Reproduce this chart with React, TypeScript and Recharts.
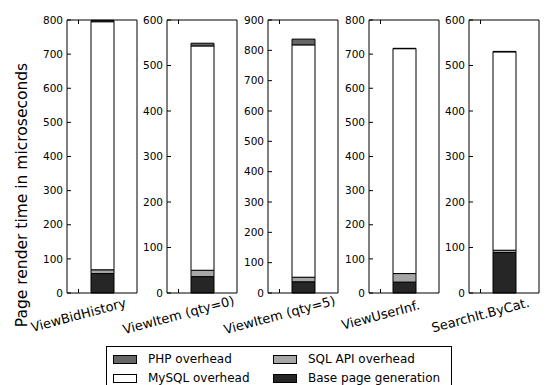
import { BarChart, Bar, XAxis, YAxis } from "recharts"

const pages = ["ViewBidHistory", "ViewItem (qty=0)", "ViewItem (qty=5)", "ViewUserInf.", "SearchIt.ByCat."]
const baseGen = [57, 36, 37, 32, 89]
const sqlApi = [11, 14, 15, 25, 5]
const mysql = [727, 493, 766, 659, 436]
const php = [4, 6, 19, 1, 1]

const ticks600 = [0, 100, 200, 300, 400, 500, 600]
const ticks800 = [0, 100, 200, 300, 400, 500, 600, 700, 800]
const ticks900 = [0, 100, 200, 300, 400, 500, 600, 700, 800, 900]
const panelTicks = [ticks800, ticks600, ticks900, ticks800, ticks600]

const yLabel = "Page render time in microseconds"

const series = [
  { key: "base", name: "Base page generation", fill: "#262626" },
  { key: "sql", name: "SQL API overhead", fill: "#a6a6a6" },
  { key: "mysql", name: "MySQL overhead", fill: "#ffffff" },
  { key: "php", name: "PHP overhead", fill: "#666666" },
]
// legend is filled column by column
const legendOrder = ["php", "mysql", "sql", "base"]

const FONT = "DejaVu Sans, sans-serif"
const plotLefts = [67, 167, 268, 369, 469]
const PLOT_W = 70
const AXIS_W = 50
const TICK_SHIFT = 23.5

const LeftTick = (p: any) => (
  <g>
    <text x={p.x} y={p.y} dy="0.35em" textAnchor="end" fontSize={10.5} fontFamily={FONT} fill="#000">
      {p.payload.value}
    </text>
    <line x1={p.x + 4} x2={p.x + 8} y1={p.y} y2={p.y} stroke="#000" />
  </g>
)

const RightTick = (p: any) => <line x1={p.x - 4} x2={p.x} y1={p.y} y2={p.y} stroke="#000" />

const BottomTick = (p: any) => {
  const tx = p.x - TICK_SHIFT
  return (
    <g>
      <line x1={tx} x2={tx} y1={p.y} y2={p.y - 4} stroke="#000" />
      <text
        transform={`translate(${tx},${p.y + 22}) rotate(-15)`}
        textAnchor="middle"
        dy="0.35em"
        fontSize={13}
        fontFamily={FONT}
        fill="#000"
      >
        {p.payload.value}
      </text>
    </g>
  )
}

const TopTick = (p: any) => (
  <line x1={p.x - TICK_SHIFT} x2={p.x - TICK_SHIFT} y1={p.y} y2={p.y + 4} stroke="#000" />
)

function Panel({ i }: { i: number }) {
  const data = [{ page: pages[i], base: baseGen[i], sql: sqlApi[i], mysql: mysql[i], php: php[i] }]
  const ticks = panelTicks[i]
  return (
    <div style={{ position: "absolute", left: plotLefts[i] - AXIS_W, top: 0 }}>
      <BarChart width={AXIS_W + PLOT_W + 1} height={385} data={data} margin={{ top: 19, right: 0, bottom: 0, left: 0 }}>
        <XAxis
          dataKey="page"
          height={92}
          tickSize={0}
          tickMargin={0}
          axisLine={{ stroke: "#000" }}
          tickLine={false}
          tick={BottomTick}
          interval={0}
        />
        <XAxis
          xAxisId="top"
          orientation="top"
          dataKey="page"
          height={1}
          tickSize={0}
          tickMargin={0}
          axisLine={{ stroke: "#000" }}
          tickLine={false}
          tick={TopTick}
          interval={0}
        />
        <YAxis
          width={AXIS_W}
          domain={[0, ticks[ticks.length - 1]]}
          ticks={ticks}
          interval={0}
          tickSize={0}
          tickMargin={4}
          axisLine={{ stroke: "#000" }}
          tickLine={false}
          tick={LeftTick}
        />
        <YAxis
          yAxisId="right"
          orientation="right"
          width={1}
          domain={[0, ticks[ticks.length - 1]]}
          ticks={ticks}
          interval={0}
          tickSize={0}
          tickMargin={0}
          axisLine={{ stroke: "#000" }}
          tickLine={false}
          tick={RightTick}
        />
        {series.map((s) => (
          <Bar
            key={s.key}
            dataKey={s.key}
            name={s.name}
            stackId="a"
            fill={s.fill}
            stroke="#000"
            strokeWidth={1}
            barSize={23}
            isAnimationActive={false}
          />
        ))}
      </BarChart>
    </div>
  )
}

function Legend() {
  return (
    <div
      style={{
        position: "absolute",
        left: 106,
        top: 346,
        width: 346,
        height: 50,
        border: "1px solid #000",
        background: "#fff",
        boxSizing: "border-box",
        fontFamily: FONT,
        fontSize: 12,
      }}
    >
      {legendOrder.map((k, idx) => {
        const s = series.find((x) => x.key === k)!
        const col = Math.floor(idx / 2)
        const row = idx % 2
        return (
          <div
            key={k}
            style={{
              position: "absolute",
              left: 6 + col * 160,
              top: 5 + row * 19,
              display: "flex",
              alignItems: "center",
              whiteSpace: "nowrap",
              height: 14,
            }}
          >
            <span
              style={{
                display: "inline-block",
                width: 24,
                height: 9,
                background: s.fill,
                border: "1px solid #000",
                boxSizing: "border-box",
                marginRight: 11,
              }}
            />
            <span>{s.name}</span>
          </div>
        )
      })}
    </div>
  )
}

export default function App() {
  return (
    <div style={{ position: "absolute", left: 0, top: 0, width: 559, height: 385, background: "#fff", overflow: "hidden" }}>
      <svg width={40} height={385} style={{ position: "absolute", left: 0, top: 0 }}>
        <text
          transform="translate(22,195) rotate(-90)"
          textAnchor="middle"
          dy="0.35em"
          fontSize={15.5}
          fontFamily={FONT}
          fill="#000"
        >
          {yLabel}
        </text>
      </svg>
      {pages.map((_, i) => (
        <Panel key={i} i={i} />
      ))}
      <Legend />
    </div>
  )
}
